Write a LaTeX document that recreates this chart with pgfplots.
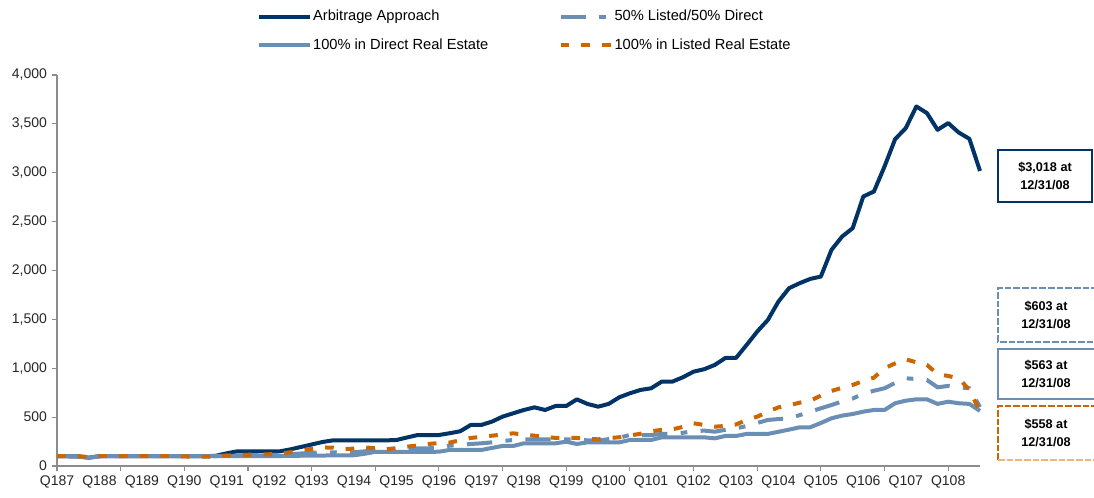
\documentclass[border=0pt]{standalone}
\usepackage{fontspec}
\setmainfont{Liberation Sans}
\usepackage{pgfplots}
\usepackage{pgfplotstable}
\pgfplotsset{compat=1.18}
\definecolor{navy}{RGB}{0,51,102}
\definecolor{lblue}{RGB}{107,142,181}
\definecolor{orng}{RGB}{204,102,0}
\definecolor{lorng}{RGB}{240,180,120}
\definecolor{axgray}{RGB}{140,140,140}

\pgfplotstableread{
i A H D L
0 100 100 100 100
1 100 100 100 100
2 97 97 97 100
3 85 85 85 92
4 100 100 100 100
5 100 100 100 100
6 100 100 100 100
7 100 100 100 100
8 100 100 100 100
9 100 100 100 100
10 100 100 100 100
11 100 100 100 100
12 100 100 100 98
13 100 100 100 95
14 100 100 100 95
15 105 102 100 100
16 130 105 100 108
17 150 108 100 112
18 150 110 100 115
19 150 112 102 118
20 150 112 102 120
21 150 115 102 125
22 170 120 103 140
23 195 128 105 160
24 220 135 106 175
25 245 140 107 190
26 262 140 108 188
27 262 138 108 172
28 262 140 110 178
29 262 150 125 190
30 262 160 145 182
31 262 162 145 172
32 266 170 145 182
33 292 181 145 198
34 317 181 145 210
35 317 181 145 225
36 317 185 146 235
37 335 208 164 240
38 355 215 164 262
39 420 225 164 287
40 420 232 164 298
41 454 242 185 310
42 505 255 205 322
43 539 266 205 334
44 573 273 232 322
45 600 273 232 310
46 573 273 232 298
47 614 273 232 287
48 614 273 249 287
49 682 273 225 287
50 635 262 242 278
51 607 259 242 273
52 635 275 242 285
53 703 290 242 294
54 744 317 266 312
55 778 317 266 330
56 795 317 266 355
57 863 328 293 370
58 863 328 293 375
59 908 340 293 400
60 965 355 293 437
61 990 362 293 420
62 1034 351 283 402
63 1105 370 307 410
64 1105 385 307 425
65 1238 409 328 470
66 1375 440 328 505
67 1494 471 328 555
68 1682 480 350 600
69 1819 488 372 620
70 1870 520 396 648
71 1914 556 396 668
72 1938 590 440 720
73 2211 624 488 768
74 2347 660 515 800
75 2433 690 532 829
76 2757 740 556 870
77 2808 770 573 904
78 3064 795 573 1000
79 3344 850 642 1050
80 3456 897 668 1092
81 3678 890 682 1060
82 3610 880 682 1034
83 3439 805 635 940
84 3508 819 658 921
85 3411 805 642 897
86 3347 795 635 778
87 3018 603 563 558
}\data

\begin{document}
\begin{tikzpicture}
\path[use as bounding box] (0,0) rectangle (820.5pt,373.5pt);
\begin{axis}[
  at={(42.75pt,24pt)}, anchor=south west,
  scale only axis, width=692.25pt, height=293.25pt,
  xmin=0, xmax=87, ymin=0, ymax=4000,
  clip=false,
  axis x line*=bottom, axis y line*=left,
  axis line style={axgray, line width=1.1pt, -},
  tick style={axgray, line width=0.8pt},
  tick align=outside,
  major tick length=4pt,
  xtick={0,6,...,84}, xticklabels={},
  extra x ticks={0,4,...,84},
  extra x tick labels={Q187,Q188,Q189,Q190,Q191,Q192,Q193,Q194,Q195,Q196,Q197,Q198,Q199,Q100,Q101,Q102,Q103,Q104,Q105,Q106,Q107,Q108},
  extra x tick style={major tick length=0pt, tick label style={yshift=-4pt}},
  ytick={0,500,...,4000},
  scaled y ticks=false,
  /pgf/number format/assume math mode=true,
  /pgf/number format/1000 sep={,},
  tick label style={font=\fontsize{10.5}{12}\selectfont, black!85},
  legend columns=2,
  legend cell align=left,
  legend style={at={(0.2125,1.18)}, anchor=north west, draw=none, fill=none,
    font=\fontsize{11}{13}\selectfont, row sep=8pt,
    nodes={inner xsep=0.8pt},
    /tikz/every even column/.append style={column sep=52pt}},
  legend image code/.code={\draw[#1] (0pt,0pt) -- (38pt,0pt);},
]
\addplot[navy, line width=3pt, line join=round] table[x=i,y=A]{\data};
\addplot[lblue, line width=3pt, dash pattern=on 19pt off 10pt on 5pt off 10pt] table[x=i,y=H]{\data};
\addplot[lblue, line width=3pt, line join=round] table[x=i,y=D]{\data};
\addplot[orng, line width=3pt, dash pattern=on 6.5pt off 9pt] table[x=i,y=L]{\data};
\legend{Arbitrage Approach, 50\% Listed/50\% Direct, 100\% in Direct Real Estate, 100\% in Listed Real Estate}
\end{axis}
% value boxes
\draw[navy, line width=1.5pt] (748.5pt,222pt) rectangle (819pt,261pt);
\node[align=center, font=\bfseries\fontsize{9.5}{13}\selectfont] at (783.75pt,241.5pt) {\$3,018 at\\12/31/08};
\draw[lblue, line width=2pt, dash pattern=on 5pt off 1.5pt] (830pt,157.5pt) -- (748.5pt,157.5pt) -- (748.5pt,117pt) -- (830pt,117pt);
\node[align=center, font=\bfseries\fontsize{9.5}{13}\selectfont] at (784.5pt,137.25pt) {\$603 at\\12/31/08};
\draw[lblue, line width=1.8pt] (830pt,111.75pt) -- (748.5pt,111.75pt) -- (748.5pt,74.25pt) -- (830pt,74.25pt);
\node[align=center, font=\bfseries\fontsize{9.5}{13}\selectfont] at (784.5pt,93pt) {\$563 at\\12/31/08};
\draw[orng, line width=2pt, dash pattern=on 5pt off 1.5pt] (830pt,69pt) -- (748.5pt,69pt) -- (748.5pt,28.5pt);
\draw[lorng, line width=1pt, dash pattern=on 5pt off 1.5pt] (748.5pt,28.5pt) -- (830pt,28.5pt);
\node[align=center, font=\bfseries\fontsize{9.5}{13}\selectfont] at (784.5pt,48.75pt) {\$558 at\\12/31/08};
\end{tikzpicture}
\end{document}
